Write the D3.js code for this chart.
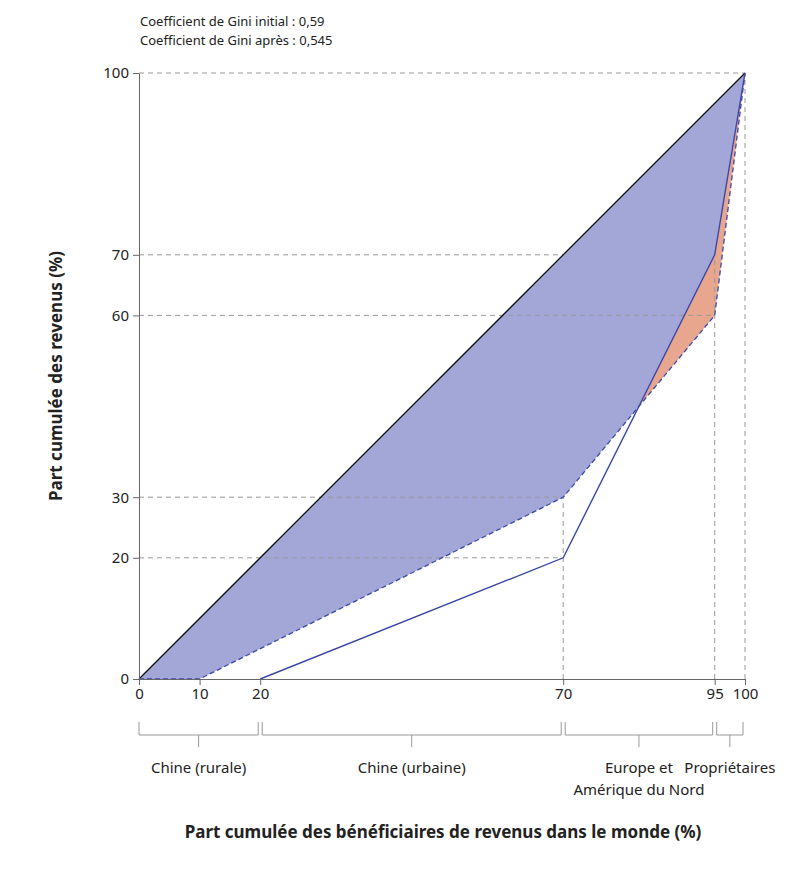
<!DOCTYPE html><html><head><meta charset="utf-8"><script src="https://d3js.org/d3.v7.min.js"></script>
<style>body{margin:0;background:#fff}text{font-family:"Noto Sans",sans-serif;fill:#222}</style></head><body><svg id="c" width="810" height="889"></svg><script>
const initialX=[0,10,70,95,100], initialY=[0,0,30,60,100];
const afterX=[20,70,95,100], afterY=[0,20,70,100];
const xTicks=[0,10,20,70,95,100], yTicks=[0,20,30,60,70,100];
const groups=["Chine (rurale)","Chine (urbaine)","Europe et|Amérique du Nord","Propriétaires"];
const groupStart=[0,20,70,95], groupEnd=[20,70,95,100];
const notes=["Coefficient de Gini initial : 0,59","Coefficient de Gini après : 0,545"];
const svg=d3.select("#c");
const x=d3.scaleLinear().domain([0,100]).range([139,745]);
const y=d3.scaleLinear().domain([0,100]).range([679,73]);
const ini=initialX.map((v,i)=>[v,initialY[i]]), aft=afterX.map((v,i)=>[v,afterY[i]]);
const line=d3.line().x(d=>x(d[0])).y(d=>y(d[1]));
// interpolate polyline value
const f=(pts,v)=>{for(let i=1;i<pts.length;i++){if(v<=pts[i][0]){const a=pts[i-1],b=pts[i];return a[1]+(b[1]-a[1])*(v-a[0])/(b[0]-a[0]);}}return 100;};
// crossing
let cx=70;for(let i=0;i<2;i++){} // computed from segments
{const a1=f(ini,70),a2=f(aft,70),b1=f(ini,95),b2=f(aft,95);cx=70+25*(a2-a1)/((b1-b2)-(a1-a2))*-1;cx=70+25*(a1-a2)/((a1-a2)-(b1-b2));}
const cy=f(ini,cx);
// blue fill: diagonal to upper envelope
const env=[[0,0],[10,0],[70,30],[cx,cy],[95,70],[100,100]];
svg.append("path").attr("d",line(env)+"Z").attr("fill","#a2a7d8");
const orange=[[cx,cy],[95,70],[100,100],[95,60]];
svg.append("path").attr("d",line(orange)+"Z").attr("fill","#e9a68e");
// gridlines
const g=svg.append("g").attr("stroke","#999").attr("stroke-dasharray","5,4").attr("stroke-width",1);
const gp=[[100,100],[70,70],[60,95],[30,70],[20,70]];
gp.forEach(([yy,xx])=>g.append("line").attr("x1",x(0)).attr("x2",x(xx)).attr("y1",y(yy)).attr("y2",y(yy)));
[[70,30],[95,70],[100,100]].forEach(([xx,yy])=>g.append("line").attr("x1",x(xx)).attr("x2",x(xx)).attr("y1",y(0)).attr("y2",y(yy)));
// diagonal
svg.append("line").attr("x1",x(0)).attr("y1",y(0)).attr("x2",x(100)).attr("y2",y(100)).attr("stroke","#111").attr("stroke-width",1.3);
svg.append("path").attr("d",line(ini)).attr("fill","none").attr("stroke","#3b48a6").attr("stroke-width",1.3).attr("stroke-dasharray","5,3");
svg.append("path").attr("d",line(aft)).attr("fill","none").attr("stroke","#3b48a6").attr("stroke-width",1.4);
// axes
const ax=svg.append("g").attr("transform","translate(0,679)").call(d3.axisBottom(x).tickValues(xTicks).tickSize(6).tickSizeOuter(0));
const ay=svg.append("g").attr("transform","translate(139,0)").call(d3.axisLeft(y).tickValues(yTicks).tickSize(6).tickSizeOuter(0));
[ax,ay].forEach(a=>{a.selectAll("path,line").attr("stroke","#666");a.selectAll("text").attr("font-size",15).attr("font-family","Noto Sans").attr("fill","#222");});
ay.selectAll("text").attr("x",-10);
// brackets
const b=svg.append("g").attr("stroke","#999").attr("fill","none");
groups.forEach((gname,i)=>{
 const x0=x(groupStart[i])+(i?2:0), x1=x(groupEnd[i])-2;
 b.append("path").attr("d",`M${x0},722V735H${x1}V722`);
 const m=(x0+x1)/2; b.append("line").attr("x1",m).attr("x2",m).attr("y1",735).attr("y2",747);
 gname.split("|").forEach((t,j)=>svg.append("text").attr("x",m).attr("y",773+j*22).attr("text-anchor","middle").attr("font-size",15).text(t));
});
svg.append("text").attr("x",443).attr("y",838).attr("text-anchor","middle").attr("font-size",17).attr("font-weight","bold").text("Part cumulée des bénéficiaires de revenus dans le monde (%)");
svg.append("text").attr("transform","translate(62,376) rotate(-90)").attr("text-anchor","middle").attr("font-size",17).attr("font-weight","bold").text("Part cumulée des revenus (%)");
notes.forEach((t,i)=>svg.append("text").attr("x",140).attr("y",26+i*19).attr("font-size",13).text(t));
</script></body></html>
